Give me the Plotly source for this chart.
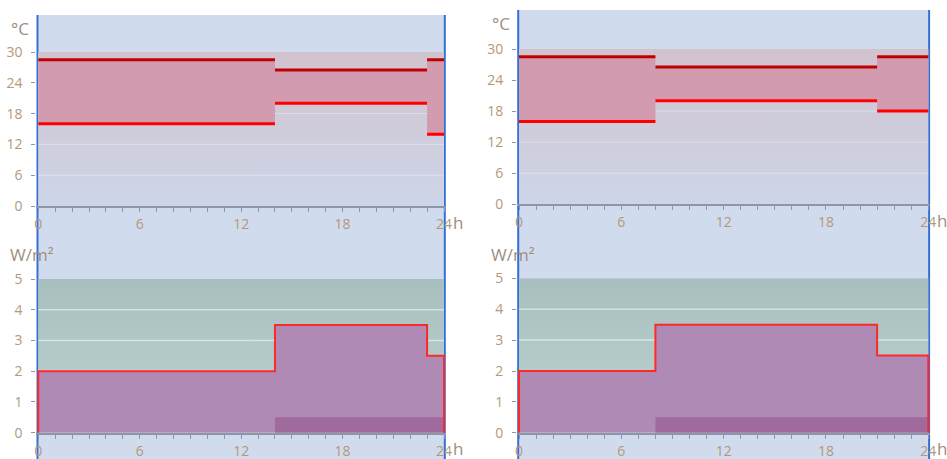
import plotly.graph_objects as go

W, H = 947, 459

# Two daily schedules: switching hours, temperature set-points and heat load
hours_a = [0, 14, 23, 24]
tmax_a = [28.5, 26.5, 28.5]
tmin_a = [16, 20, 14]
load_a = [2, 3.5, 2.5]
base_start_a = 14

hours_b = [0, 8, 21, 24]
tmax_b = [28.5, 26.5, 28.5]
tmin_b = [16, 20, 18]
load_b = [2, 3.5, 2.5]
base_start_b = 8

base_level = 0.5
temp_limit = 30
load_limit = 5

temp_ticks = [0, 6, 12, 18, 24, 30]
load_ticks = [0, 1, 2, 3, 4, 5]
hour_ticks = [0, 6, 12, 18, 24]
hour_labels = ["0", "6", "12", "18", "24"]

# colours
PANEL_BG = "rgb(208,220,238)"
EDGE_BLUE = "rgb(52,112,212)"
COMFORT = "rgb(210,155,176)"
TMAX_RED = "rgb(192,0,0)"
TMIN_RED = "rgb(255,0,0)"
LOAD_FILL = "rgb(174,138,180)"
BASE_FILL = "rgb(161,106,157)"
LOAD_LINE = "rgb(255,40,40)"
TICK_TXT = "rgb(180,152,120)"
UNIT_TXT = "rgb(160,142,128)"
AXIS_GREY = "rgb(140,150,168)"
FONT = "Open Sans"


def paper_x(px):
    return px / W


def paper_y(px):
    return 1 - px / H


def x_domain(px0, px24, pad):
    per = (px24 - px0) / 24
    return [paper_x(px0 - pad * per), paper_x(px24 + pad * per)]


def seg_xy(hours, vals):
    xs, ys = [], []
    for i, v in enumerate(vals):
        xs += [hours[i], hours[i + 1], None]
        ys += [v, v, None]
    return xs, ys


def grid_xy(t0, t1, ticks):
    xs, ys = [], []
    for v in ticks[1:-1]:
        xs += [t0, t1, None]
        ys += [v, v, None]
    return xs, ys


fig = go.Figure()

PAD = 0.12
# column geometry in pixels: x at 0h / 24h, panel top, axis rows
cols = {
    "a": dict(x0=38.3, x24=444.0, top=15, t_zero=206.0, t_top=52.0,
              l_zero=432.7, l_top=279.0),
    "b": dict(x0=519.0, x24=928.3, top=10, t_zero=204.3, t_top=49.0,
              l_zero=432.8, l_top=278.3),
}

datasets = {
    "a": (hours_a, tmax_a, tmin_a, load_a, base_start_a, ("x", "y"), ("x2", "y2")),
    "b": (hours_b, tmax_b, tmin_b, load_b, base_start_b, ("x3", "y3"), ("x4", "y4")),
}

shapes = []
annotations = []
layout_axes = {}

for key, (hours, tmax, tmin, load, bstart, top_ax, bot_ax) in datasets.items():
    g = cols[key]
    t0, t1 = hours[0], hours[-1]

    # panel background and blue edge lines
    shapes.append(dict(type="rect", xref="paper", yref="paper", layer="below",
                       x0=paper_x(g["x0"]), x1=paper_x(g["x24"]),
                       y0=0, y1=paper_y(g["top"]),
                       fillcolor=PANEL_BG, line=dict(width=0)))
    for ex in (g["x0"] - 0.8, g["x24"] + 0.8):
        shapes.append(dict(type="line", xref="paper", yref="paper", layer="below",
                           x0=paper_x(ex), x1=paper_x(ex),
                           y0=0, y1=paper_y(g["top"]),
                           line=dict(color=EDGE_BLUE, width=2)))

    # --- temperature chart ---
    xa, ya = top_ax
    fig.add_trace(go.Scatter(
        x=[t0, t1], y=[temp_limit, temp_limit], xaxis=xa, yaxis=ya,
        mode="lines", line=dict(width=0), fill="tozeroy",
        fillgradient=dict(type="vertical",
                          colorscale=[[0, "rgb(205,213,232)"],
                                      [1, "rgb(209,195,206)"]]),
        hoverinfo="skip", showlegend=False))
    gx, gy = grid_xy(t0, t1, temp_ticks)
    fig.add_trace(go.Scatter(x=gx, y=gy, xaxis=xa, yaxis=ya, mode="lines",
                             line=dict(color="rgba(255,255,255,0.35)", width=1),
                             hoverinfo="skip", showlegend=False))
    fig.add_trace(go.Scatter(
        x=hours, y=tmin + [tmin[-1]], xaxis=xa, yaxis=ya,
        mode="lines", line=dict(width=0, shape="hv"),
        hoverinfo="skip", showlegend=False))
    fig.add_trace(go.Scatter(
        x=hours, y=tmax + [tmax[-1]], xaxis=xa, yaxis=ya,
        mode="lines", line=dict(width=0, shape="hv"),
        fill="tonexty", fillcolor=COMFORT,
        hoverinfo="skip", showlegend=False))
    sx, sy = seg_xy(hours, tmax)
    fig.add_trace(go.Scatter(x=sx, y=sy, xaxis=xa, yaxis=ya, mode="lines",
                             line=dict(color=TMAX_RED, width=3),
                             hoverinfo="skip", showlegend=False))
    sx, sy = seg_xy(hours, tmin)
    fig.add_trace(go.Scatter(x=sx, y=sy, xaxis=xa, yaxis=ya, mode="lines",
                             line=dict(color=TMIN_RED, width=3),
                             hoverinfo="skip", showlegend=False))

    # --- load chart ---
    xb, yb = bot_ax
    fig.add_trace(go.Scatter(
        x=[t0, t1], y=[load_limit, load_limit], xaxis=xb, yaxis=yb,
        mode="lines", line=dict(width=0), fill="tozeroy",
        fillgradient=dict(type="vertical",
                          colorscale=[[0, "rgb(192,212,210)"],
                                      [1, "rgb(167,191,190)"]]),
        hoverinfo="skip", showlegend=False))
    gx, gy = grid_xy(t0, t1, load_ticks)
    fig.add_trace(go.Scatter(x=gx, y=gy, xaxis=xb, yaxis=yb, mode="lines",
                             line=dict(color="rgba(255,255,255,0.5)", width=1.5),
                             hoverinfo="skip", showlegend=False))
    lx = [t0] + hours[:-1] + [t1, t1]
    ly = [0] + load + [load[-1], 0]
    fig.add_trace(go.Scatter(
        x=lx, y=ly, xaxis=xb, yaxis=yb, mode="lines",
        line=dict(width=0, shape="hv"), fill="toself", fillcolor=LOAD_FILL,
        hoverinfo="skip", showlegend=False))
    fig.add_trace(go.Scatter(
        x=[bstart, t1], y=[base_level, base_level], xaxis=xb, yaxis=yb,
        mode="lines", line=dict(width=0), fill="tozeroy", fillcolor=BASE_FILL,
        hoverinfo="skip", showlegend=False))
    fig.add_trace(go.Scatter(
        x=lx, y=ly, xaxis=xb, yaxis=yb, mode="lines",
        line=dict(color=LOAD_LINE, width=2, shape="hv"),
        hoverinfo="skip", showlegend=False))

    # axes
    xdom = x_domain(g["x0"], g["x24"], PAD)
    xcommon = dict(
        domain=xdom, range=[-PAD, 24 + PAD], tickvals=hour_ticks,
        ticktext=hour_labels, ticks="outside", ticklen=4, tickwidth=1,
        tickcolor=AXIS_GREY, showline=True, linecolor=AXIS_GREY, linewidth=2,
        showgrid=False, zeroline=False, fixedrange=True, automargin=False,
        ticklabelstandoff=0,
        tickfont=dict(family=FONT, size=14, color=TICK_TXT),
        minor=dict(dtick=1, ticks="outside", ticklen=4, tickwidth=1,
                   tickcolor=AXIS_GREY, showgrid=False),
    )
    ycommon = dict(
        ticks="outside", ticklen=4, tickwidth=1, tickcolor=AXIS_GREY,
        showline=False, zeroline=False, showgrid=False,
        fixedrange=True, automargin=False, ticklabelstandoff=6,
        tickfont=dict(family=FONT, size=14, color=TICK_TXT),
    )
    name_xa = "xaxis" if xa == "x" else "xaxis" + xa[1:]
    name_ya = "yaxis" if ya == "y" else "yaxis" + ya[1:]
    name_xb = "xaxis" + xb[1:]
    name_yb = "yaxis" + yb[1:]
    layout_axes[name_xa] = dict(xcommon, anchor=ya)
    layout_axes[name_ya] = dict(ycommon, anchor=xa,
                                domain=[paper_y(g["t_zero"]), paper_y(g["t_top"])],
                                range=[0, temp_limit], tickvals=temp_ticks)
    layout_axes[name_xb] = dict(xcommon, anchor=yb)
    layout_axes[name_yb] = dict(ycommon, anchor=xb,
                                domain=[paper_y(g["l_zero"]), paper_y(g["l_top"])],
                                range=[0, load_limit], tickvals=load_ticks)

    # unit labels
    annotations.append(dict(text="°C", xref="paper", yref="paper",
                            x=paper_x(g["x0"] - 18), y=paper_y(g["top"] + 13),
                            xanchor="center", yanchor="middle", showarrow=False,
                            font=dict(family=FONT, size=17, color=UNIT_TXT)))
    annotations.append(dict(text="W/m²", xref="paper", yref="paper",
                            x=paper_x(g["x0"] - 30), y=paper_y(254),
                            xanchor="left", yanchor="middle", showarrow=False,
                            font=dict(family=FONT, size=17, color=UNIT_TXT)))
    for zero_px in (g["t_zero"], g["l_zero"]):
        annotations.append(dict(text="h", xref="paper", yref="paper",
                                x=paper_x(g["x24"] + 7), y=paper_y(zero_px + 16),
                                xanchor="left", yanchor="middle", showarrow=False,
                                font=dict(family=FONT, size=17, color=UNIT_TXT)))

fig.update_layout(
    width=W, height=H,
    margin=dict(l=0, r=0, t=0, b=0, autoexpand=False),
    paper_bgcolor="white",
    plot_bgcolor="rgba(0,0,0,0)",
    showlegend=False,
    shapes=shapes,
    annotations=annotations,
    **layout_axes,
)

fig.write_html("out.html")
